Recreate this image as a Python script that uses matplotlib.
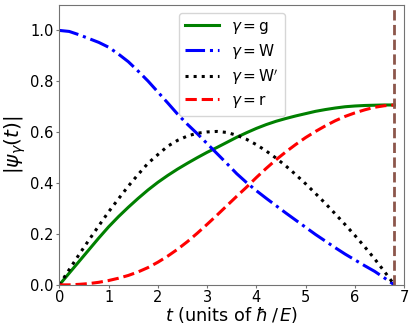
import matplotlib
matplotlib.use("Agg")
import matplotlib.pyplot as plt

# time grid (units of hbar/E), every 0.2
t = [0.0, 0.2, 0.4, 0.6, 0.8, 1.0, 1.2, 1.4, 1.6, 1.8, 2.0, 2.2, 2.4, 2.6, 2.8,
     3.0, 3.2, 3.4, 3.6, 3.8, 4.0, 4.2, 4.4, 4.6, 4.8, 5.0, 5.2, 5.4, 5.6, 5.8,
     6.0, 6.2, 6.4, 6.6, 6.8]

psi_g = [0.000, 0.046, 0.092, 0.138, 0.184, 0.228, 0.268, 0.305, 0.340, 0.373,
         0.403, 0.430, 0.455, 0.478, 0.500, 0.521, 0.540, 0.560, 0.580, 0.598,
         0.615, 0.630, 0.643, 0.654, 0.664, 0.673, 0.682, 0.689, 0.695, 0.700,
         0.703, 0.705, 0.706, 0.707, 0.707]

psi_W = [1.000, 0.996, 0.983, 0.968, 0.953, 0.934, 0.907, 0.877, 0.840, 0.801,
         0.758, 0.715, 0.671, 0.631, 0.594, 0.555, 0.516, 0.477, 0.437, 0.402,
         0.370, 0.340, 0.311, 0.282, 0.254, 0.226, 0.198, 0.172, 0.146, 0.121,
         0.098, 0.075, 0.053, 0.027, 0.000]

psi_Wp = [0.000, 0.060, 0.119, 0.176, 0.232, 0.287, 0.338, 0.388, 0.434, 0.478,
          0.512, 0.545, 0.568, 0.585, 0.596, 0.601, 0.603, 0.599, 0.588, 0.572,
          0.551, 0.526, 0.498, 0.467, 0.433, 0.397, 0.359, 0.320, 0.279, 0.237,
          0.194, 0.149, 0.102, 0.052, 0.000]

psi_r = [0.000, 0.000, 0.002, 0.005, 0.010, 0.017, 0.026, 0.037, 0.051, 0.068,
         0.089, 0.113, 0.140, 0.170, 0.203, 0.238, 0.274, 0.311, 0.348, 0.384,
         0.422, 0.458, 0.492, 0.523, 0.552, 0.579, 0.603, 0.625, 0.645, 0.662,
         0.676, 0.688, 0.698, 0.704, 0.707]

t_end = 6.8

fig = plt.figure(figsize=(4.15, 3.32), dpi=100)
ax = fig.add_axes([0.143, 0.142, 0.831, 0.843])

ax.plot(t, psi_g, color="green", lw=2.2, ls="-", label=r"$\gamma = \mathrm{g}$")
ax.plot(t, psi_W, color="blue", lw=2.2, ls="-.", label=r"$\gamma = \mathrm{W}$")
ax.plot(t, psi_Wp, color="black", lw=2.2, ls=":", label=r"$\gamma = \mathrm{W}'$")
ax.plot(t, psi_r, color="red", lw=2.2, ls="--", label=r"$\gamma = \mathrm{r}$")
ax.axvline(t_end, color="tab:brown", lw=2, ls="--")

ax.set_xlim(0, 7)
ax.set_ylim(0, 1.1)
ax.set_xticks(range(8))
ax.set_yticks([0.0, 0.2, 0.4, 0.6, 0.8, 1.0])
for s in ax.spines.values():
    s.set_color("0.45")
    s.set_linewidth(0.8)
ax.tick_params(labelsize=10.5, length=2.5, color="0.45", pad=1.5)
ax.set_xlabel(r"$t$ (units of $\hbar\,/\,E$)", fontsize=12.7, labelpad=0)
ax.set_ylabel(r"$|\psi_\gamma(t)|$", fontsize=14.5, labelpad=2)
ax.legend(loc="upper center", fontsize=11, handlelength=2.2, labelspacing=0.4)

fig.savefig("out.png", dpi=100)
